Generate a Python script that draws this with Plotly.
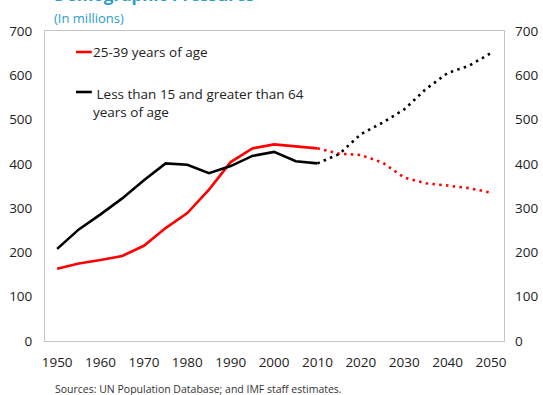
import plotly.graph_objects as go

years_hist = [1950, 1955, 1960, 1965, 1970, 1975, 1980, 1985, 1990, 1995, 2000, 2005, 2010]
prime_hist = [163, 175, 183, 192, 215, 255, 289, 342, 404, 435, 444, 440, 435]
dep_hist = [208, 252, 286, 322, 363, 401, 398, 379, 395, 418, 427, 406, 401]

years_proj = [2010, 2015, 2020, 2025, 2030, 2035, 2040, 2045, 2050]
prime_proj = [435, 423, 420, 403, 369, 356, 351, 345, 335]
dep_proj = [401, 422, 467, 493, 523, 569, 605, 622, 650]

x_ticks = list(range(1950, 2051, 10))
y_ticks = list(range(0, 701, 100))

RED = "#ff0000"
BLACK = "#000000"
FONT = "Open Sans"
TEAL = "#2a9cc9"

fig = go.Figure()
fig.add_trace(go.Scatter(x=years_hist, y=prime_hist, mode="lines",
                         line=dict(color=RED, width=2.6), showlegend=False))
fig.add_trace(go.Scatter(x=years_hist, y=dep_hist, mode="lines",
                         line=dict(color=BLACK, width=2.6), showlegend=False))
fig.add_trace(go.Scatter(x=years_proj, y=prime_proj, mode="lines", yaxis="y2",
                         line=dict(color=RED, width=2.6, dash="2.5px,4.3px"), showlegend=False))
fig.add_trace(go.Scatter(x=years_proj, y=dep_proj, mode="lines", yaxis="y2",
                         line=dict(color=BLACK, width=2.6, dash="2.5px,4.3px"), showlegend=False))

axis_font = dict(family=FONT, size=13.5, color="#222222")
fig.update_layout(
    width=543, height=395, autosize=False,
    margin=dict(l=45, r=39, t=31, b=54),
    paper_bgcolor="white", plot_bgcolor="white",
    font=dict(family=FONT),
    xaxis=dict(range=[1947.2, 2053.0], tickvals=x_ticks, ticks="", showgrid=False,
               zeroline=False, showline=True, mirror=True, linecolor="#c4c4c4", linewidth=1,
               tickfont=axis_font, ticklabelstandoff=9, automargin=False),
    yaxis=dict(range=[0, 700], tickvals=y_ticks, ticks="", showgrid=False,
               zeroline=False, showline=True, mirror=True, linecolor="#c4c4c4", linewidth=1,
               tickfont=axis_font, ticklabelstandoff=9, automargin=False),
    yaxis2=dict(range=[0, 700], tickvals=y_ticks, ticks="", showgrid=False, overlaying="y",
                side="right", zeroline=False, showline=False,
                tickfont=axis_font, ticklabelstandoff=10, automargin=False),
)

# Title (partly cut off at the top, as in the reference) and subtitle
fig.add_annotation(text="<b>Demographic Pressures</b>", xref="paper", yref="paper",
                   x=0.015, y=1.0, yshift=37, xanchor="left", yanchor="middle",
                   showarrow=False, font=dict(family=FONT, size=17, color=TEAL))
fig.add_annotation(text="(In millions)", xref="paper", yref="paper",
                   x=0.015, y=1.0, yshift=13.5, xanchor="left", yanchor="middle",
                   showarrow=False, font=dict(family=FONT, size=13, color=TEAL))

# Legend drawn inside the plot
fig.add_shape(type="line", xref="paper", yref="paper", x0=0.0675, x1=0.102,
              y0=(341 - 52) / 310, y1=(341 - 52) / 310, line=dict(color=RED, width=2.6))
fig.add_shape(type="line", xref="paper", yref="paper", x0=0.0675, x1=0.102,
              y0=(341 - 92) / 310, y1=(341 - 92) / 310, line=dict(color=BLACK, width=2.6))
fig.add_annotation(text="25-39 years of age", xref="paper", yref="paper",
                   x=0.101, y=(341 - 52) / 310, xanchor="left", yanchor="middle",
                   showarrow=False, font=dict(family=FONT, size=13.5, color="#222222"))
fig.add_annotation(text=" Less than 15 and greater than 64<br>years of age", xref="paper", yref="paper",
                   x=0.101, y=(341 - 92) / 310, yshift=-11, xanchor="left", yanchor="middle",
                   align="left", showarrow=False,
                   font=dict(family=FONT, size=13.5, color="#222222"))

# Source
fig.add_annotation(text="Sources: UN Population Database; and IMF staff estimates.",
                   xref="paper", yref="paper", x=0.017, y=0, yshift=-48,
                   xanchor="left", yanchor="middle", showarrow=False,
                   font=dict(family=FONT, size=10.5, color="#333333"))

fig.write_html("out.html", config={"displayModeBar": False},
               post_script="document.body.style.margin='0';")
